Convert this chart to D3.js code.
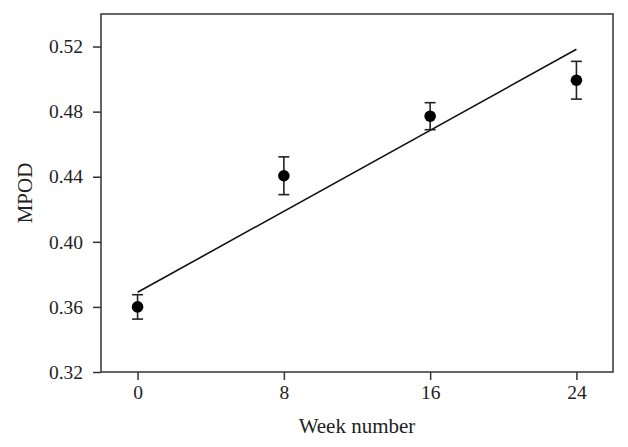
<!DOCTYPE html>
<html>
<head>
<meta charset="utf-8">
<script src="https://cdn.jsdelivr.net/npm/d3@7"></script>
<style>
    body { margin: 0; background: #fff; }
    text { font-family: "Liberation Serif", "DejaVu Serif", serif; fill: #222; }
</style>
</head>
<body>
<div id="chart"></div>
<script>
    'use strict';

    // data
    var weeks = [0, 8, 16, 24];
    var mpod = [0.360, 0.4406, 0.4772, 0.4993];
    var mpodErr = [0.0075, 0.0116, 0.0083, 0.0116];
    var fitWeeks = [0, 24];
    var fitMpod = [0.369, 0.5183];
    var xTicks = [0, 8, 16, 24];
    var yTicks = [0.32, 0.36, 0.40, 0.44, 0.48, 0.52];

    var width = 628, height = 447;
    var margin = {top: 14, right: 15, bottom: 75, left: 101};

    var svg = d3.select("#chart").append("svg")
        .attr("width", width)
        .attr("height", height);

    var x = d3.scaleLinear().domain([-2, 26]).range([margin.left, width - margin.right]);
    var y = d3.scaleLinear().domain([0.32, 0.54]).range([height - margin.bottom, margin.top]);

    var axisColor = "#333";

    // frame
    svg.append("rect")
        .attr("x", margin.left)
        .attr("y", margin.top)
        .attr("width", width - margin.left - margin.right)
        .attr("height", height - margin.top - margin.bottom)
        .attr("fill", "none")
        .attr("stroke", axisColor)
        .attr("stroke-width", 1.5);

    var xAxis = svg.append("g")
        .attr("transform", "translate(0," + (height - margin.bottom) + ")")
        .call(d3.axisBottom(x).tickValues(xTicks).tickSize(8).tickPadding(5).tickFormat(d3.format("d")));

    var yAxis = svg.append("g")
        .attr("transform", "translate(" + margin.left + ",0)")
        .call(d3.axisLeft(y).tickValues(yTicks).tickSize(8).tickPadding(10).tickFormat(d3.format(".2f")));

    [xAxis, yAxis].forEach(function(g) {
        g.select(".domain").remove();
        g.selectAll(".tick line").attr("stroke", axisColor).attr("stroke-width", 1.5);
        g.selectAll(".tick text")
            .style("font-family", '"Liberation Serif", serif')
            .style("font-size", "19.5px")
            .attr("fill", "#222");
    });

    // regression line
    var line = d3.line()
        .x(function(d) { return x(d[0]); })
        .y(function(d) { return y(d[1]); });

    svg.append("path")
        .datum(d3.zip(fitWeeks, fitMpod))
        .attr("d", line)
        .attr("fill", "none")
        .attr("stroke", "#111")
        .attr("stroke-width", 1.6);

    // error bars
    var pts = weeks.map(function(w, i) {
        return {w: w, v: mpod[i], e: mpodErr[i]};
    });

    var bars = svg.append("g").selectAll("g")
        .data(pts)
        .enter().append("g")
        .attr("stroke", "#222")
        .attr("stroke-width", 1.6);

    bars.append("line")
        .attr("x1", function(d) { return x(d.w); })
        .attr("x2", function(d) { return x(d.w); })
        .attr("y1", function(d) { return y(d.v - d.e); })
        .attr("y2", function(d) { return y(d.v + d.e); });

    bars.append("line")
        .attr("x1", function(d) { return x(d.w) - 5.5; })
        .attr("x2", function(d) { return x(d.w) + 5.5; })
        .attr("y1", function(d) { return y(d.v + d.e); })
        .attr("y2", function(d) { return y(d.v + d.e); });

    bars.append("line")
        .attr("x1", function(d) { return x(d.w) - 5.5; })
        .attr("x2", function(d) { return x(d.w) + 5.5; })
        .attr("y1", function(d) { return y(d.v - d.e); })
        .attr("y2", function(d) { return y(d.v - d.e); });

    svg.append("g").selectAll("circle")
        .data(pts)
        .enter().append("circle")
        .attr("cx", function(d) { return x(d.w); })
        .attr("cy", function(d) { return y(d.v); })
        .attr("r", 5.8)
        .attr("fill", "#000");

    // axis titles
    svg.append("text")
        .attr("x", (margin.left + width - margin.right) / 2)
        .attr("y", 433)
        .attr("text-anchor", "middle")
        .style("font-size", "21px")
        .text("Week number");

    svg.append("text")
        .attr("transform", "translate(32," + (margin.top + height - margin.bottom) / 2 + ")rotate(-90)")
        .attr("text-anchor", "middle")
        .style("font-size", "21px")
        .text("MPOD");
</script>
</body>
</html>
